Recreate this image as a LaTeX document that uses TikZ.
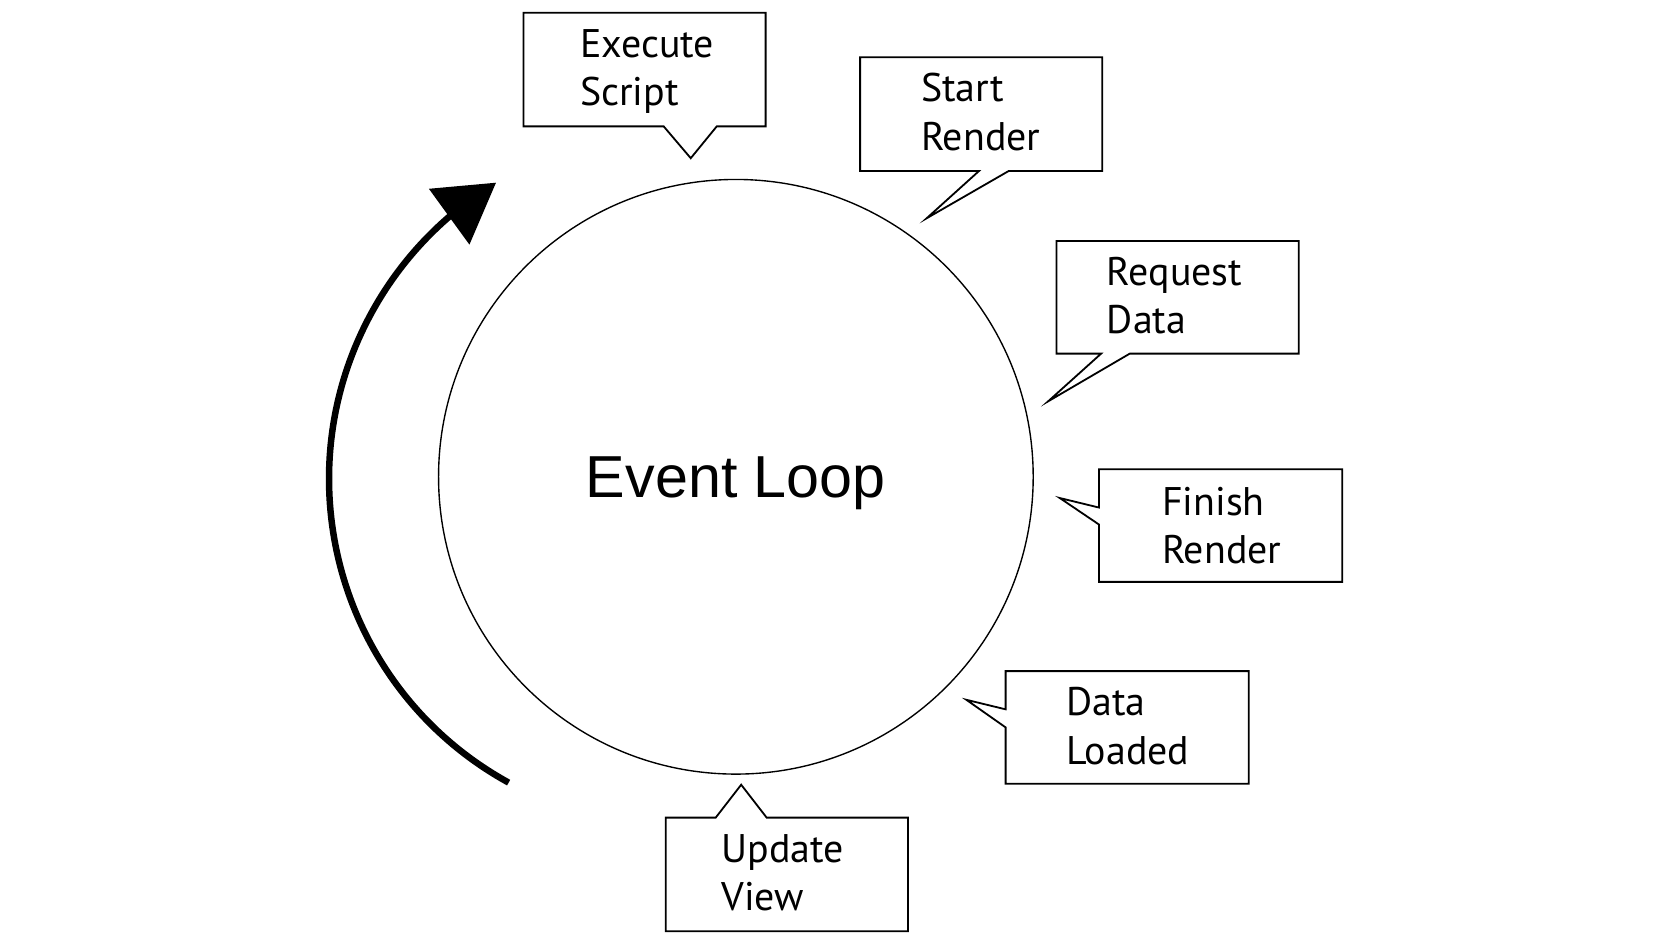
\documentclass[tikz,border=0pt]{standalone}
\usepackage{fontspec}
\newfontfamily\calloutfont{PT Sans}
\newfontfamily\loopfont{Liberation Sans}
\usetikzlibrary{arrows.meta,bending}
\begin{document}
\begin{tikzpicture}[x=0.5pt,y=-0.5pt,
  callout/.style={draw, line width=0.85pt, line join=miter},
  ctext/.style={anchor=base west, inner sep=0pt, align=left, font=\calloutfont\fontsize{18.8}{22.75}\selectfont},
  loopring/.style={circle, draw, line width=0.65pt, minimum size=280pt, inner sep=0pt, text depth=0pt, font=\loopfont\fontsize{27.9}{30}\selectfont},
  looparrow/.style={line width=3.05pt, -{Triangle[length=27.3pt,width=31.7pt]}}]
\useasboundingbox (0,0) rectangle (1568,887);
% central loop
\node[loopring] (loop) at (693,449) {Event Loop};
% circular arrow
\coordinate (arcC) at (636.2,451.1);
\coordinate (arcS) at ([shift={(118.8:326.3)}]arcC);
\draw[looparrow] (arcS) arc[start angle=118.8, end angle=238.8, radius=326.3];
% callouts
\draw[callout] (493,12) -- (721,12) -- (721,119) -- (675,119) -- (650.5,149) -- (625,119) -- (493,119) -- cycle;
\draw[callout] (810,54) -- (1038,54) -- (1038,161) -- (950,161) -- (872.6,205.6) -- (922,161) -- (810,161) -- cycle;
\draw[callout] (995,227) -- (1223,227) -- (1223,333) -- (1064,333) -- (987,378) -- (1037,333) -- (995,333) -- cycle;
\draw[callout] (1035,442) -- (1264,442) -- (1264,548) -- (1035,548) -- (1035,494) -- (998,469) -- (1035,478) -- cycle;
\draw[callout] (947,632) -- (1176,632) -- (1176,738) -- (947,738) -- (947,685) -- (910,659) -- (947,668) -- cycle;
\draw[callout] (627,770) -- (674,770) -- (698,739) -- (722,770) -- (855,770) -- (855,877) -- (627,877) -- cycle;
% texts (anchor = baseline of the second line)
\node[ctext] (es) at (546,99.5) {Execute\\Script};
\node[ctext] (sr) at (867,141.5) {Start\\Render};
\node[ctext] (rd) at (1042,314) {Request\\Data};
\node[ctext] (fr) at (1094,530.5) {Finish\\Render};
\node[ctext] (dl) at (1004,719.5) {Data\\Loaded};
\node[ctext] (uv) at (679,857.5) {Update\\View};
\end{tikzpicture}
\end{document}
